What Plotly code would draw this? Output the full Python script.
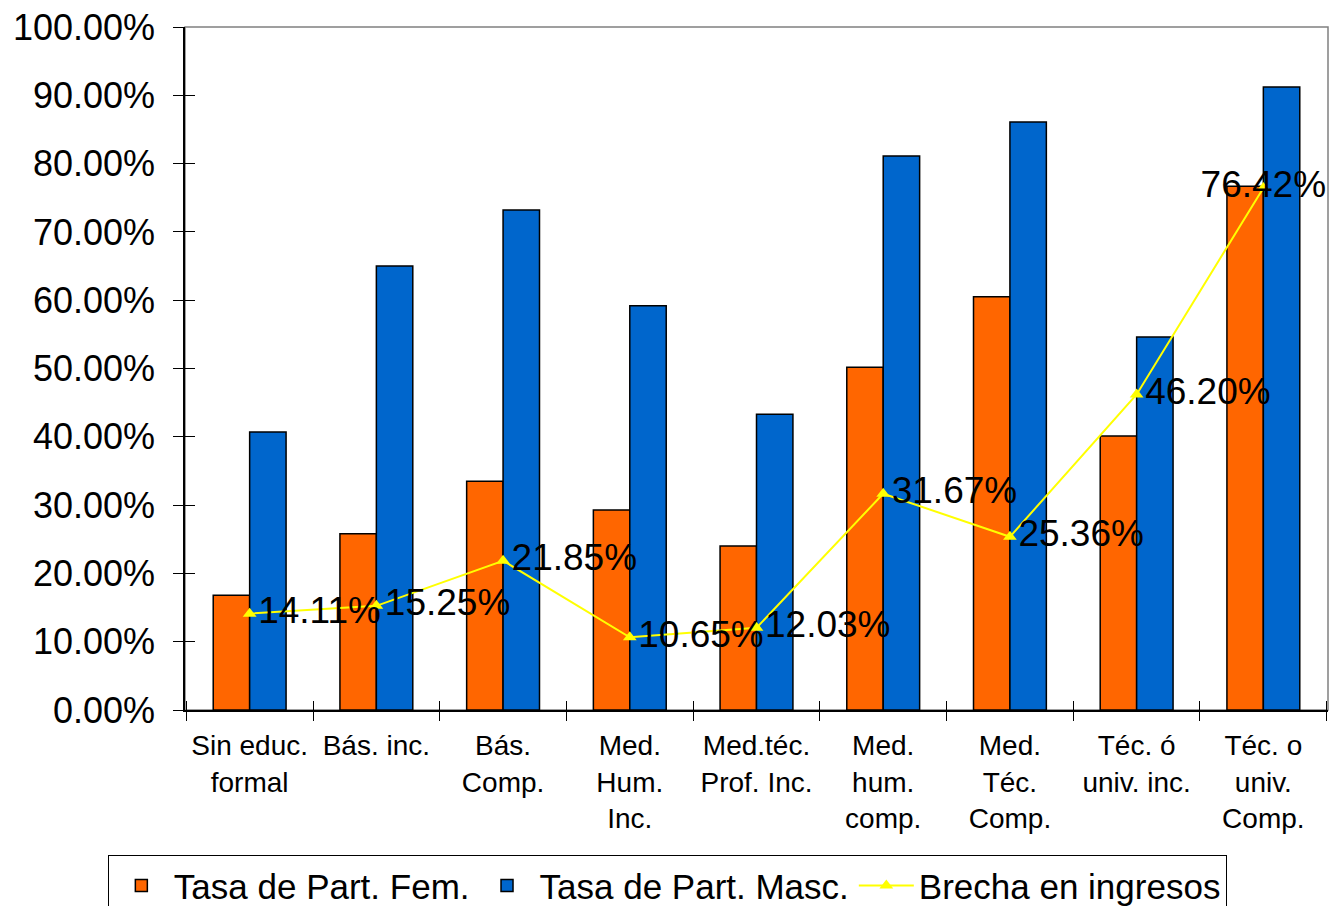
import plotly.graph_objects as go

categories = ["Sin educ.<br>formal", "Bás. inc.", "Bás.<br>Comp.", "Med.<br>Hum.<br>Inc.",
              "Med.téc.<br>Prof. Inc.", "Med.<br>hum.<br>comp.", "Med.<br>Téc.<br>Comp.",
              "Téc. ó<br>univ. inc.", "Téc. o<br>univ.<br>Comp."]
tasa_fem = [0.168, 0.258, 0.335, 0.293, 0.240, 0.502, 0.605, 0.401, 0.767]
tasa_masc = [0.407, 0.650, 0.732, 0.592, 0.433, 0.811, 0.861, 0.546, 0.912]
brecha = [0.1411, 0.1525, 0.2185, 0.1065, 0.1203, 0.3167, 0.2536, 0.4620, 0.7642]
brecha_labels = ["14.11%", "15.25%", "21.85%", "10.65%", "12.03%", "31.67%", "25.36%", "46.20%", "76.42%"]
label_pos = ["middle right"] * 8 + ["middle center"]

font = "Liberation Sans, Arial, sans-serif"

fig = go.Figure()
fig.add_trace(go.Bar(x=categories, y=tasa_fem, name="Tasa de Part. Fem.",
                     marker=dict(color="#FF6600", line=dict(color="black", width=1.5))))
fig.add_trace(go.Bar(x=categories, y=tasa_masc, name="Tasa de Part. Masc.",
                     marker=dict(color="#0066CC", line=dict(color="black", width=1.5))))
fig.add_trace(go.Scatter(x=categories, y=brecha, name="Brecha en ingresos",
                         mode="lines+markers+text", text=brecha_labels,
                         textposition=label_pos,
                         textfont=dict(size=37, color="black", family=font),
                         line=dict(color="#FFFF00", width=2),
                         marker=dict(symbol="triangle-up", size=12, color="#FFFF00")))

fig.update_layout(
    width=1331, height=898,
    margin=dict(l=177, r=11, t=19, b=196, autoexpand=False),
    paper_bgcolor="white", plot_bgcolor="white",
    barmode="group", bargap=0.425, bargroupgap=0,
    font=dict(family=font, color="black"),
    showlegend=True,
    legend=dict(orientation="h", x=0.422, xanchor="center", y=-0.2125, yanchor="top",
                font=dict(size=35, family=font), bordercolor="black", borderwidth=1,
                itemwidth=55, tracegroupgap=0),
    xaxis=dict(showline=True, linecolor="black", linewidth=1.5, ticks="outside",
               tickson="boundaries", ticklen=9, tickcolor="black", automargin=False,
               ticklabelstandoff=10,
               tickfont=dict(size=28, family=font), showgrid=False),
    yaxis=dict(range=[0, 1], dtick=0.1, tickformat=".2%", showline=True,
               linecolor="black", linewidth=1.5, ticks="outside", ticklen=10,
               tickcolor="black", tickfont=dict(size=36, family=font), automargin=False,
               ticklabelstandoff=11, ticklabeloverflow="allow",
               showgrid=False, zeroline=False),
    xaxis2=dict(overlaying="x", matches="x", side="bottom", ticks="inside",
                tickson="boundaries", ticklen=9, tickcolor="black",
                showticklabels=False, showline=False, showgrid=False),
    yaxis2=dict(overlaying="y", matches="y", side="left", ticks="inside", ticklen=10,
                tickcolor="black", showticklabels=False, showline=False,
                showgrid=False, zeroline=False, dtick=0.1),
    shapes=[dict(type="rect", xref="paper", yref="paper", x0=0, x1=1, y0=0, y1=1,
                 line=dict(color="#808080", width=1.5), layer="below")],
)
fig.add_trace(go.Scatter(x=categories, y=brecha, xaxis="x2", yaxis="y2", mode="markers",
                         marker=dict(opacity=0), showlegend=False, hoverinfo="skip"))

fig.write_html("out.html")
